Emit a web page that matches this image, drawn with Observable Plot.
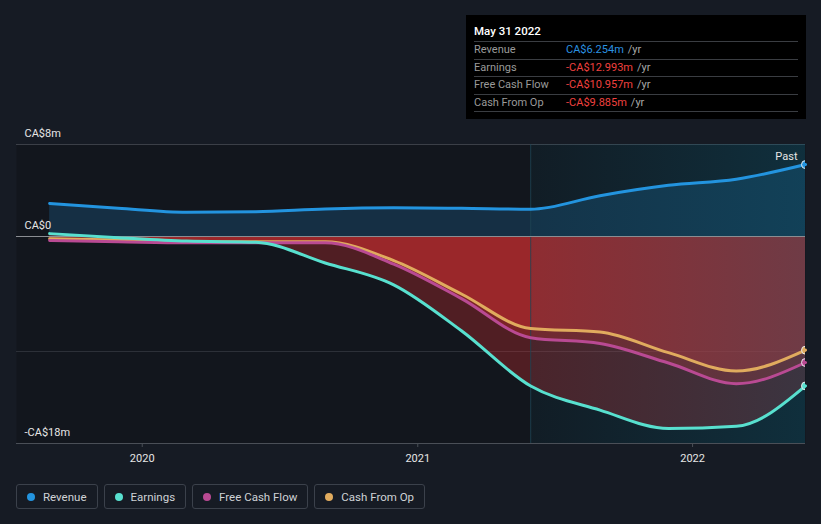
<!DOCTYPE html>
<html>
<head>
<meta charset="utf-8">
<script src="https://cdn.jsdelivr.net/npm/d3@7"></script>
<script src="https://cdn.jsdelivr.net/npm/@observablehq/plot@0.6"></script>
<style>
  html, body { margin: 0; padding: 0; background: #161b24; }
  body { width: 821px; height: 524px; overflow: hidden; font-family: Roboto, "Noto Sans", sans-serif; }
  #wrap { position: relative; width: 821px; height: 524px; }
  #chart { position: absolute; left: 0; top: 0; }
  #tip { position: absolute; left: 466px; top: 15px; width: 340px; height: 104px; background: #000; box-sizing: border-box; padding: 0 8px; }
  #tip .title { color: #fff; font-size: 11.5px; font-weight: 500; height: 26px; line-height: 32px; padding-left: 0; }
  #tip .row { border-top: 1px solid #3a3d42; height: 16.5px; line-height: 16.5px; font-size: 11px; display: flex; }
  #tip .row:last-child { border-bottom: 1px solid #3a3d42; }
  #tip .lab { color: #9a9a9a; width: 92px; }
  #tip .unit { color: #a8a8a8; margin-left: 4px; }
  #legend { position: absolute; left: 16px; top: 484px; display: flex; gap: 6px; }
  .item { height: 25px; box-sizing: border-box; border: 1px solid #3b414b; border-radius: 3px; display: flex; align-items: center; padding: 0 10px 0 10px; color: #cfd2d6; font-size: 11.5px; }
  .item .dot { width: 8px; height: 8px; border-radius: 50%; margin-right: 8px; }
</style>
</head>
<body>
<div id="wrap">
  <div id="chart"></div>
  <div id="tip"></div>
  <div id="legend"></div>
</div>
<script>
// ---- data ----
const dates = ["2019-08-31","2019-11-30","2020-02-29","2020-05-31","2020-08-31","2020-11-30","2021-02-28","2021-05-31","2021-08-31","2021-11-30","2022-02-28","2022-05-31"];
const revenue = [2.87, 2.45, 2.1, 2.15, 2.4, 2.5, 2.45, 2.37, 3.55, 4.45, 4.98, 6.254];
const earnings = [0.25, -0.1, -0.4, -0.5, -2.3, -4.2, -8.2, -13.0, -15.1, -16.7, -16.5, -12.993];
const freeCashFlow = [-0.35, -0.45, -0.55, -0.55, -0.55, -2.4, -5.4, -8.8, -9.3, -11.0, -12.8, -10.957];
const cashFromOp = [-0.2, -0.3, -0.45, -0.45, -0.45, -2.1, -5.0, -8.0, -8.3, -10.1, -11.7, -9.885];

const seriesNames = ["Revenue", "Earnings", "Free Cash Flow", "Cash From Op"];
const seriesColors = ["#2394df", "#58e0cf", "#b94a93", "#e0ab5e"];
const seriesValues = [revenue, earnings, freeCashFlow, cashFromOp];

const yTickValues = [8, 0, -18];
const yTickLabels = ["CA$8m", "CA$0", "-CA$18m"];
const xTickYears = ["2020-01-01", "2021-01-01", "2022-01-01"];
const xDomain = ["2019-07-18", "2022-05-31"];
const pastStart = "2021-05-31";

const tipTitle = "May 31 2022";
const tipValues = ["CA$6.254m", "-CA$12.993m", "-CA$10.957m", "-CA$9.885m"];

// ---- build ----
const parse = d3.utcParse("%Y-%m-%d");
const rows = [];
seriesNames.forEach((name, i) => {
  dates.forEach((d, j) => rows.push({series: name, date: parse(d), value: seriesValues[i][j]}));
});
const bySeries = name => rows.filter(r => r.series === name);
const last = rows.filter(r => +r.date === +parse(dates[dates.length - 1]));

const defs = () => {
  const g = d3.create("svg:defs");
  const lg = g.append("linearGradient").attr("id", "pastGrad").attr("x1", "0").attr("x2", "1").attr("y1", "0").attr("y2", "0");
  lg.append("stop").attr("offset", "0%").attr("stop-color", "#0a6a86").attr("stop-opacity", 0.08);
  lg.append("stop").attr("offset", "100%").attr("stop-color", "#0a6a86").attr("stop-opacity", 0.3);
  return g.node();
};

const plot = Plot.plot({
  width: 821,
  height: 470,
  marginLeft: 16,
  marginRight: 16,
  marginTop: 144,
  marginBottom: 27,
  style: {background: "transparent", fontFamily: "Roboto, sans-serif", overflow: "visible"},
  x: {type: "utc", domain: xDomain.map(parse)},
  y: {domain: [-18, 8], axis: null},
  marks: [
    defs,
    Plot.frame({fill: "#12161d", stroke: null}),
    Plot.ruleY([8], {stroke: "#3b3f47", strokeWidth: 1}),
    Plot.ruleY([-10], {stroke: "#2c3038", strokeWidth: 1}),
    Plot.areaY(bySeries("Revenue"), {x: "date", y1: 0, y2: "value", fill: "#2394df", fillOpacity: 0.2, curve: "monotone-x"}),
    Plot.areaY(bySeries("Earnings"), {x: "date", y1: 0, y2: "value", fill: "#e03232", fillOpacity: 0.3, curve: "monotone-x"}),
    Plot.areaY(bySeries("Free Cash Flow"), {x: "date", y1: 0, y2: "value", fill: "#e03232", fillOpacity: 0.3, curve: "monotone-x"}),
    Plot.areaY(bySeries("Cash From Op"), {x: "date", y1: 0, y2: "value", fill: "#e03232", fillOpacity: 0.3, curve: "monotone-x"}),
    Plot.rect([{x1: parse(pastStart), x2: parse(xDomain[1])}], {x1: "x1", x2: "x2", y1: -18, y2: 8, fill: "url(#pastGrad)"}),
    Plot.ruleX([parse(pastStart)], {stroke: "#1f4454", strokeWidth: 1, strokeOpacity: 0.8}),
    Plot.ruleY([0], {stroke: "#8a8d92", strokeWidth: 1.2}),
    Plot.ruleY([-18], {stroke: "#4a4f57", strokeWidth: 1}),
    ...seriesNames.map((name, i) =>
      Plot.line(bySeries(name), {x: "date", y: "value", stroke: seriesColors[i], strokeWidth: 3, curve: "monotone-x"})
    ).reverse(),
    Plot.dot(last, {x: "date", y: "value", fill: d => seriesColors[seriesNames.indexOf(d.series)], stroke: "#e8e8e8", strokeWidth: 1, r: 4, clip: true}),
    Plot.text(yTickValues, {x: parse(xDomain[0]), y: d => d, text: (d, i) => yTickLabels[i], dx: 8, dy: -11, textAnchor: "start", fill: "#e6e6e6", fontSize: 11}),
    Plot.text(["Past"], {x: parse(xDomain[1]), y: 8, text: d => d, dx: -8, dy: 12, textAnchor: "end", fill: "#e6e6e6", fontSize: 11}),
    Plot.axisX(xTickYears.map(parse), {tickFormat: d3.utcFormat("%Y"), tickSize: 4, tickPadding: 7, stroke: "#4a4f57", fill: "#e6e6e6", fontSize: 11, label: null})
  ]
});
document.getElementById("chart").appendChild(plot);

// tooltip box
const tip = document.getElementById("tip");
const t = document.createElement("div"); t.className = "title"; t.textContent = tipTitle; tip.appendChild(t);
seriesNames.forEach((name, i) => {
  const r = document.createElement("div"); r.className = "row";
  const l = document.createElement("span"); l.className = "lab"; l.textContent = name;
  const v = document.createElement("span"); v.textContent = tipValues[i];
  v.style.color = tipValues[i].startsWith("-") ? "#f0403f" : "#2b92e0";
  const u = document.createElement("span"); u.className = "unit"; u.textContent = "/yr";
  r.append(l, v, u); tip.appendChild(r);
});

// legend
const legend = document.getElementById("legend");
seriesNames.forEach((name, i) => {
  const it = document.createElement("div"); it.className = "item";
  const d = document.createElement("span"); d.className = "dot"; d.style.background = seriesColors[i];
  const s = document.createElement("span"); s.textContent = name;
  it.append(d, s); legend.appendChild(it);
});
</script>
</body>
</html>
